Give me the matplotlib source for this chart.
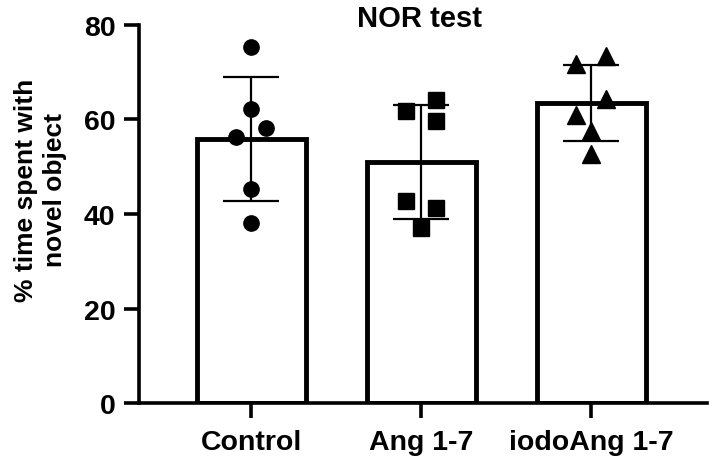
import numpy as np
from matplotlib import pyplot as plt

plt.rcParams['font.family'] = ['Liberation Sans', 'DejaVu Sans']
plt.rcParams['font.weight'] = 'bold'

groups = ['Control', 'Ang 1-7', 'iodoAng 1-7']
control = [75.4, 62.2, 58.2, 56.4, 45.3, 38.0]
ang = [61.9, 64.1, 59.6, 42.7, 41.2, 37.0]
iodo_ang = [71.7, 73.5, 64.3, 61.0, 57.6, 52.7]
markers = ['o', 's', '^']
y_ticks = [0, 20, 40, 60, 80]

# horizontal scatter of the points inside each bar (layout only)
jitter = [[0, 0, 1, -1, 0, 0],
          [-1, 1, 1, -1, 1, 0],
          [-1, 1, 1, -1, 0, 0]]

fig = plt.figure(figsize=(7.09, 4.60), dpi=100)
ax = fig.add_axes([0.196, 0.1217, 0.801, 0.8218])

data = [control, ang, iodo_ang]
for i, (vals, mk) in enumerate(zip(data, markers)):
    vals = np.asarray(vals)
    mean = vals.mean()
    sd = vals.std(ddof=1)
    ax.bar(i, mean, width=0.64, facecolor='white', edgecolor='black',
           linewidth=3.5, zorder=1)
    ax.errorbar(i, mean, yerr=sd, color='black', elinewidth=1.6,
                capsize=20, capthick=1.6, zorder=2)
    xs = i + 0.088 * np.asarray(jitter[i])
    ms = {'o': 11, 's': 11.5, '^': 12.5}[mk]
    ax.plot(xs, vals, linestyle='none', marker=mk, markersize=ms,
            color='black', zorder=3)

ax.set_xlim(-0.66, 2.68)
ax.set_ylim(0, 80)
ax.set_yticks(y_ticks)
ax.set_xticks(range(len(groups)))
ax.set_xticklabels(groups)

for side in ['top', 'right']:
    ax.spines[side].set_visible(False)
for side in ['left', 'bottom']:
    ax.spines[side].set_linewidth(2.6)

ax.tick_params(axis='both', direction='out', width=2.6, labelsize=20.5)
ax.tick_params(axis='y', length=11, pad=6)
ax.tick_params(axis='x', length=11, pad=8)

ax.set_ylabel('% time spent with\nnovel object', fontsize=19,
              fontweight='bold', linespacing=1.25)
ax.yaxis.set_label_coords(-0.127, 0.566)
fig.text(0.592, 0.941, 'NOR test', fontsize=21, fontweight='bold',
         ha='center', va='baseline')

fig.savefig('out.png', dpi=100)
